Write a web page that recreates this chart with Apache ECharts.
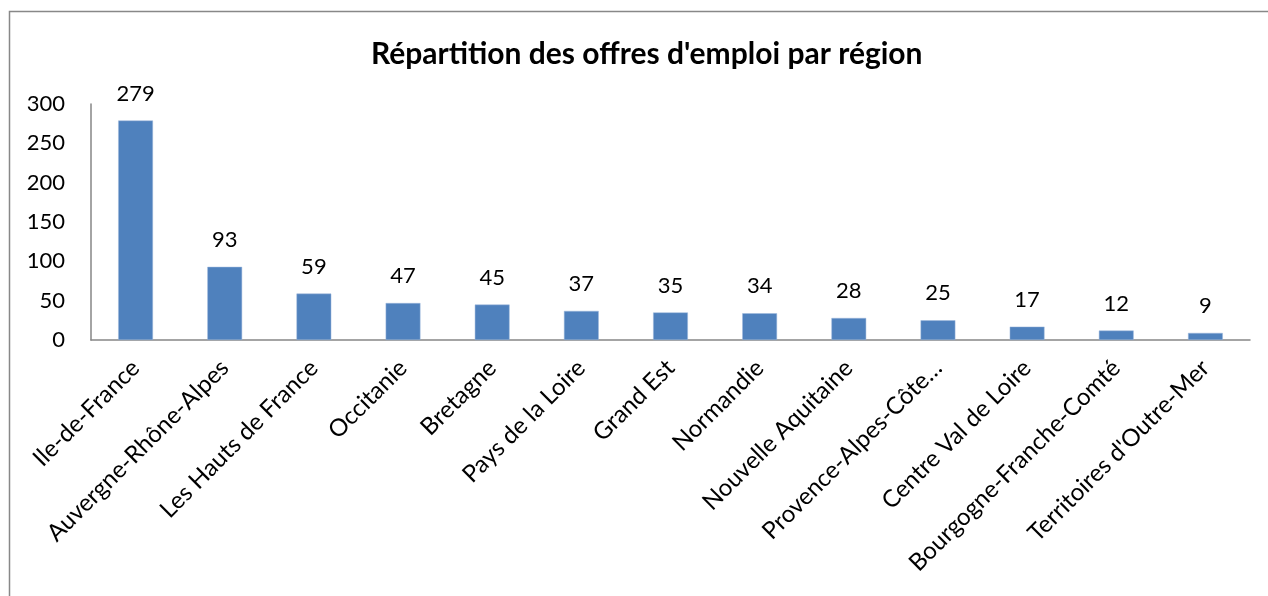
<!DOCTYPE html>
<html>
<head>
<meta charset="utf-8">
<script src="https://cdn.jsdelivr.net/npm/echarts@6/dist/echarts.min.js"></script>
<style>html,body{margin:0;padding:0;background:#fff}#c{width:1268px;height:596px}</style>
</head>
<body>
<div id="c"></div>
<script>
const title = "Répartition des offres d'emploi par région";
const categories = ["Ile-de-France","Auvergne-Rhône-Alpes","Les Hauts de France","Occitanie","Bretagne","Pays de la Loire","Grand Est","Normandie","Nouvelle Aquitaine","Provence-Alpes-Côte…","Centre Val de Loire","Bourgogne-Franche-Comté","Territoires d'Outre-Mer"];
const values = [279,93,59,47,45,37,35,34,28,25,17,12,9];
const yTicks = {min:0, max:300, interval:50};

const font = "Lato, 'Open Sans', sans-serif";
const chart = echarts.init(document.getElementById('c'), null, {renderer:'canvas'});
chart.setOption({
  animation:false,
  backgroundColor:'#fff',
  graphic:[{type:'rect', shape:{x:9.5,y:11.5,width:1400,height:800}, style:{fill:'none', stroke:'#888', lineWidth:1.5}, silent:true}],
  title:{text:title, left:366, top:34, textStyle:{fontFamily:font, fontWeight:'bold', fontSize:30, color:'#000'}},
  grid:{left:91, right:18, top:104, bottom:256, containLabel:false},
  xAxis:{type:'category', data:categories,
    axisLine:{lineStyle:{color:'#868686', width:1.5}},
    axisTick:{show:false},
    axisLabel:{rotate:45, interval:0, margin:24, color:'#000', fontFamily:font, fontSize:24}},
  yAxis:{type:'value', min:yTicks.min, max:yTicks.max, interval:yTicks.interval,
    axisLine:{show:true, lineStyle:{color:'#868686', width:1.5}},
    axisTick:{show:false},
    splitLine:{show:false},
    axisLabel:{margin:26, color:'#000', fontFamily:font, fontSize:22}},
  series:[{type:'bar', data:values, barWidth:'39%',
    itemStyle:{color:'#4f81bd', borderColor:'#9fb9dc', borderWidth:0.5},
    label:{show:true, position:'top', distance:16, color:'#000', fontFamily:font, fontSize:22}}]
});
</script>
</body>
</html>
